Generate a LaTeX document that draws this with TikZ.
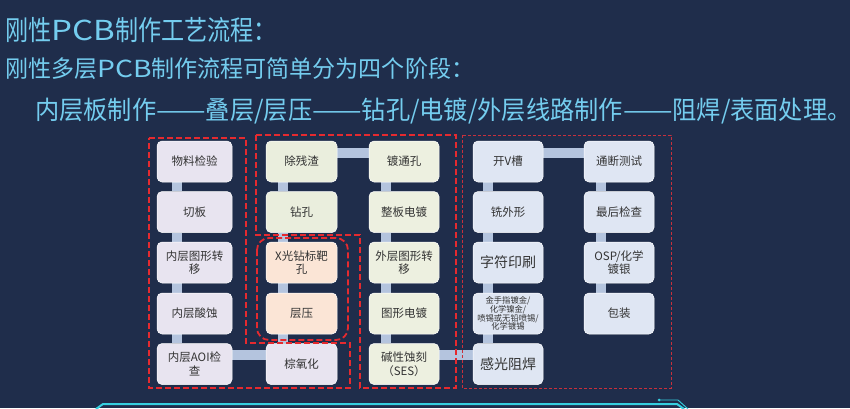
\documentclass[tikz,border=0pt]{standalone}
\usepackage{fontspec}
\setmainfont{Noto Sans CJK SC}
\newfontfamily\titlea{Noto Sans CJK SC}[FakeStretch=0.84]
\newfontfamily\titleb{Noto Sans CJK SC}[FakeStretch=0.98]
\newfontfamily\titlec{Noto Sans CJK SC}[FakeStretch=0.95]
\newfontfamily\titlelat{Noto Sans CJK SC}[FakeStretch=1.2]
\usetikzlibrary{backgrounds}
\definecolor{bgc}{HTML}{1F2D4B}
\definecolor{titc}{HTML}{74CDEF}
\definecolor{lav}{HTML}{E8E4F0}
\definecolor{grn}{HTML}{EAEEDD}
\definecolor{pch}{HTML}{FBE5D6}
\definecolor{bge}{HTML}{EDF0E0}
\definecolor{blu}{HTML}{DFE6F3}
\definecolor{connc}{HTML}{B4C4DE}
\definecolor{redd}{HTML}{E52A2F}
\definecolor{redt}{HTML}{C8303C}
\definecolor{cyn}{HTML}{35D0E0}
\definecolor{txtc}{HTML}{333333}
\newcommand{\longdash}{\scalebox{1.22}[1]{——}}
\tikzset{
  box/.style={draw=white, line width=0.5pt, rounded corners=5pt, minimum height=41pt,
    inner sep=1pt, align=center, text=txtc, font=\fontsize{11.5}{13.5}\selectfont},
  w1/.style={minimum width=75pt},
  w2/.style={minimum width=71pt},
  w3/.style={minimum width=70pt},
  conn/.style={draw=connc, line width=10pt},
  reddash/.style={draw=redd, line width=1.8pt, dash pattern=on 6pt off 3pt},
  redthin/.style={draw=redt, line width=1pt, dash pattern=on 3pt off 2pt},
  titl/.style={anchor=base west, inner sep=0pt, text=titc},
  cyanline/.style={draw=cyn, line width=2pt},
}
\begin{document}
\begin{tikzpicture}[x=1pt,y=-1pt]
\useasboundingbox (0,0) rectangle (850,408);
\begin{scope}[on background layer]
\fill[bgc] (0,0) rectangle (850,408);
\end{scope}

% titles
\node[titl, font=\titlea\fontsize{27.5}{30}\selectfont] (t1) at (5,40.5)
  {刚性{\titlelat PCB}制作工艺流程：};
\node[titl, font=\titleb\fontsize{23.5}{28}\selectfont] (t2) at (5,77.5)
  {刚性多层{\titlelat PCB}制作流程可简单分为四个阶段：};
\node[titl, font=\titlec\fontsize{25.5}{30}\selectfont] (t3) at (35,119)
  {内层板制作\longdash 叠层/层压\longdash 钻孔/电镀/外层线路制作\longdash 阻焊/表面处理。};

% column 1
\node[box,w1,fill=lav] (n1) at (194.5,161.5) {物料检验};
\node[box,w1,fill=lav] (n2) at (194.5,212) {切板};
\node[box,w1,fill=lav] (n3) at (194.5,262.5) {内层图形转\\移};
\node[box,w1,fill=lav] (n4) at (194.5,313.5) {内层酸蚀};
\node[box,w1,fill=lav] (n5) at (194.5,364) {内层AOI检\\查};
% column 2
\node[box,w2,fill=grn] (m1) at (301.5,161.5) {除残渣};
\node[box,w2,fill=grn] (m2) at (301.5,212) {钻孔};
\node[box,w2,fill=pch] (m3) at (301.5,262.5) {X光钻标靶\\孔};
\node[box,w2,fill=pch] (m4) at (301.5,313.5) {层压};
\node[box,w2,fill=lav] (m5) at (301.5,364) {棕氧化};
% column 3
\node[box,w3,fill=bge] (p1) at (404,161.5) {镀通孔};
\node[box,w3,fill=bge] (p2) at (404,212) {整板电镀};
\node[box,w3,fill=bge] (p3) at (404,262.5) {外层图形转\\移};
\node[box,w3,fill=bge] (p4) at (404,313.5) {图形电镀};
\node[box,w3,fill=bge] (p5) at (404,364) {碱性蚀刻\\（SES）};
% column 4
\node[box,w3,fill=blu] (q1) at (508,161.5) {开V槽};
\node[box,w3,fill=blu] (q2) at (508,212) {铣外形};
\node[box,w3,fill=blu,font=\fontsize{14}{16}\selectfont] (q3) at (508,262.5) {字符印刷};
\node[box,w3,fill=blu,font=\fontsize{8.3}{8.7}\selectfont] (q4) at (508,313.5) {金手指镀金/\\化学镍金/\\喷锡或无铅喷锡/\\化学镀锡};
\node[box,w3,fill=blu,font=\fontsize{14}{16}\selectfont] (q5) at (508,364) {感光阻焊};
% column 5
\node[box,w3,fill=blu] (r1) at (619,161.5) {通断测试};
\node[box,w3,fill=blu] (r2) at (619,212) {最后检查};
\node[box,w3,fill=blu] (r3) at (619,262.5) {OSP/化学\\镀银};
\node[box,w3,fill=blu] (r4) at (619,313.5) {包装};

% connectors
\begin{scope}[on background layer]
\foreach \a/\b in {n1/n2,n2/n3,n3/n4,n4/n5}
  \draw[conn] ([xshift=-17.5pt]\a.south) -- ([xshift=-17.5pt]\b.north);
\draw[conn] ([yshift=9pt]n5.east) -- ([yshift=9pt]m5.west);
\foreach \a/\b in {m5/m4,m4/m3,m3/m2,m2/m1}
  \draw[conn] ([xshift=-18.5pt]\a.north) -- ([xshift=-18.5pt]\b.south);
\draw[conn] ([yshift=8.5pt]m1.east) -- ([yshift=8.5pt]p1.west);
\foreach \a/\b in {p1/p2,p2/p3,p3/p4,p4/p5}
  \draw[conn] ([xshift=-18pt]\a.south) -- ([xshift=-18pt]\b.north);
\draw[conn] ([yshift=9pt]p5.east) -- ([yshift=9pt]q5.west);
\foreach \a/\b in {q5/q4,q4/q3,q3/q2,q2/q1}
  \draw[conn] ([xshift=-20pt]\a.north) -- ([xshift=-20pt]\b.south);
\draw[conn] ([yshift=8.5pt]q1.east) -- ([yshift=8.5pt]r1.west);
\foreach \a/\b in {r1/r2,r2/r3,r3/r4}
  \draw[conn] ([xshift=-18pt]\a.south) -- ([xshift=-18pt]\b.north);
\end{scope}

% dashed regions
\draw[reddash] (149,138) -- (246,138) -- (246,343) -- (350,343) -- (350,388) -- (149,388) -- cycle;
\draw[reddash] (256,135) -- (456,135) -- (456,388) -- (360,388) -- (360,235) -- (256,235) -- cycle;
\draw[reddash, rounded corners=12pt] (257,238) rectangle (348,340);
\draw[redthin] (462,135) rectangle (671,388);

% bottom cyan lines
\draw[cyanline] (96,409) -- (103,404) -- (677,404) -- (684,409);
\draw[draw=cyn, line width=0.9pt] (659,400) -- (678,400) -- (688,409);
\fill[cyn] (659,400) circle (1.5pt);
\end{tikzpicture}
\end{document}
